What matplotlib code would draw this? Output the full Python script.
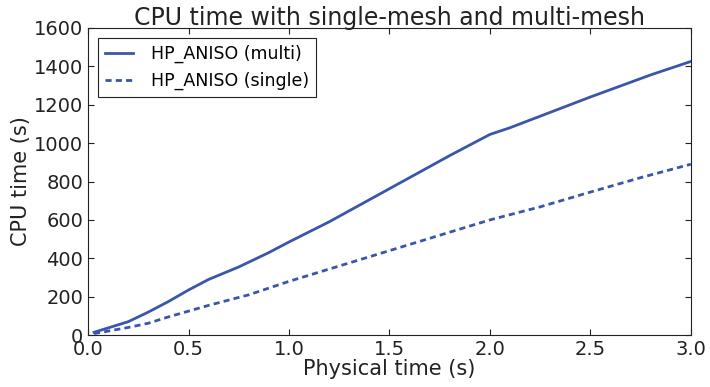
import matplotlib
matplotlib.use("Agg")
import matplotlib.pyplot as plt

# values
t_multi = [0.03, 0.2, 0.3, 0.4, 0.5, 0.6, 0.75, 0.9, 1.0, 1.2, 1.4, 1.6,
           1.8, 2.0, 2.1, 2.25, 2.5, 2.8, 3.0]
cpu_multi = [15, 70, 120, 175, 235, 290, 355, 430, 485, 590, 705, 820,
             935, 1045, 1080, 1140, 1240, 1355, 1425]

t_single = [0.03, 0.2, 0.3, 0.4, 0.5, 0.6, 0.8, 1.0, 1.25, 1.5, 1.75, 2.0,
            2.25, 2.5, 2.75, 3.0]
cpu_single = [8, 40, 62, 95, 125, 155, 210, 280, 360, 440, 520, 600,
              668, 745, 820, 890]

COLOR = '#3a56a9'
TXT = '#222222'

plt.rcParams['font.family'] = 'DejaVu Sans'
fig = plt.figure(figsize=(7.1, 3.87), dpi=100)
ax = fig.add_axes([0.124, 0.134, 0.849, 0.794])

ax.plot(t_multi, cpu_multi, color=COLOR, linewidth=2, label='HP_ANISO (multi)')
ax.plot(t_single, cpu_single, color=COLOR, linewidth=2,
        linestyle=(0, (2.2, 1.5)), label='HP_ANISO (single)')

ax.set_xlim(0, 3.0)
ax.set_ylim(0, 1600)
ax.set_xticks([0.0, 0.5, 1.0, 1.5, 2.0, 2.5, 3.0])
ax.set_yticks(range(0, 1601, 200))
ax.tick_params(direction='in', top=True, right=True, labelsize=14,
               length=4, colors=TXT, labelcolor=TXT)
for s in ax.spines.values():
    s.set_color(TXT)

ax.set_xlabel('Physical time (s)', fontsize=15, labelpad=0, color=TXT)
ax.set_ylabel('CPU time (s)', fontsize=15, color=TXT, labelpad=2)
ax.set_title('CPU time with single-mesh and multi-mesh', fontsize=17,
             color=TXT, pad=2)

leg = ax.legend(loc='upper left', fontsize=12.5, fancybox=False,
                framealpha=1, edgecolor=TXT, handlelength=1.6,
                handletextpad=1.0, borderaxespad=0.6)
leg.get_frame().set_linewidth(0.8)

fig.savefig('out.png', dpi=100, facecolor='white')
